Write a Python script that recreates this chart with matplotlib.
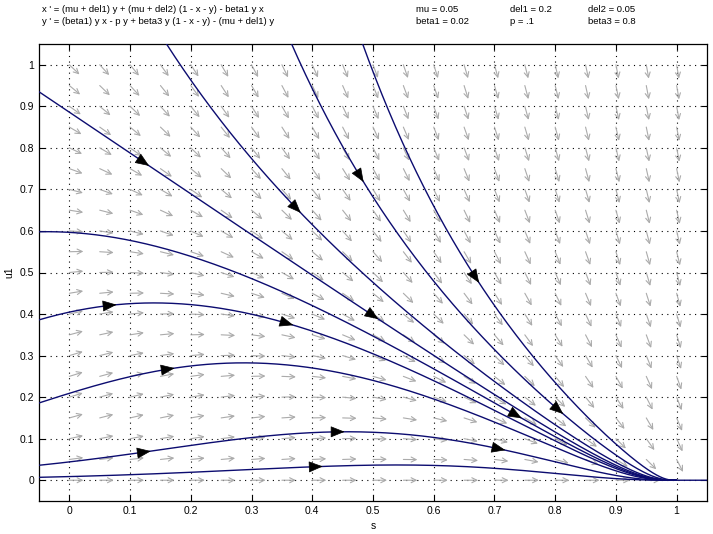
import numpy as np
import matplotlib
matplotlib.use("Agg")
import matplotlib.pyplot as plt
from matplotlib.patches import FancyArrowPatch

plt.rcParams['font.family'] = ['Liberation Sans', 'DejaVu Sans']

# parameters shown on the chart
mu, del1, del2 = 0.05, 0.2, 0.05
beta1, p, beta3 = 0.02, 0.1, 0.8

# starting points of the drawn solutions (where they enter the window)
start_s = [-0.05, 0.16, 0.366, 0.483, -0.05, -0.05, -0.05, -0.05, -0.05, 1.05]
start_u = [0.935, 1.05, 1.05, 1.05, 0.598, 0.386, 0.186, 0.036, 0.007, 0.0]

# positions of the black arrowheads on the solutions
arrow_s = [0.128, 0.379, 0.483, 0.675, 0.507, 0.077, 0.367, 0.175, 0.135, 0.453, 0.717, 0.417, 0.745, 0.81]
arrow_u = [0.752, 0.643, 0.716, 0.475, 0.386, 0.422, 0.369, 0.265, 0.065, 0.118, 0.070, 0.036, 0.149, 0.157]

xticks = [0, 0.1, 0.2, 0.3, 0.4, 0.5, 0.6, 0.7, 0.8, 0.9, 1]
tick_labels = ['0', '0.1', '0.2', '0.3', '0.4', '0.5', '0.6', '0.7', '0.8', '0.9', '1']
grid_pts = np.linspace(0, 1, 21)

xlim = (-0.05, 1.05)
ylim = (-0.05, 1.05)


def rhs(x, y):
    dx = (mu + del1) * y + (mu + del2) * (1 - x - y) - beta1 * y * x
    dy = beta1 * y * x - p * y + beta3 * y * (1 - x - y) - (mu + del1) * y
    return dx, dy


def solve(x0, y0, dt=0.01, tmax=200):
    xs, ys = [x0], [y0]
    x, y = x0, y0
    for _ in range(int(tmax / dt)):
        k1 = rhs(x, y)
        k2 = rhs(x + dt / 2 * k1[0], y + dt / 2 * k1[1])
        k3 = rhs(x + dt / 2 * k2[0], y + dt / 2 * k2[1])
        k4 = rhs(x + dt * k3[0], y + dt * k3[1])
        x += dt / 6 * (k1[0] + 2 * k2[0] + 2 * k3[0] + k4[0])
        y += dt / 6 * (k1[1] + 2 * k2[1] + 2 * k3[1] + k4[1])
        xs.append(x)
        ys.append(y)
        if np.hypot(x - 1, y) < 5e-4:
            break
    return np.array(xs), np.array(ys)


fig = plt.figure(figsize=(7.13, 5.34), dpi=100)
ax = fig.add_axes([39 / 713, 1 - 501 / 534, 668 / 713, 457 / 534])
ax.set_xlim(*xlim)
ax.set_ylim(*ylim)

# direction field, constant arrow length in pixels
sx = 668 / (xlim[1] - xlim[0])
sy = 457 / (ylim[1] - ylim[0])
L = 14
for gx in grid_pts:
    for gy in grid_pts:
        u, v = rhs(gx, gy)
        pu, pv = u * sx, v * sy
        n = np.hypot(pu, pv)
        if n == 0:
            continue
        ddx = pu / n * L / sx
        ddy = pv / n * L / sy
        ax.annotate('', xy=(gx + ddx, gy + ddy), xytext=(gx, gy),
                    arrowprops=dict(arrowstyle='->', color='#ababab', lw=0.8,
                                    shrinkA=0, shrinkB=0, mutation_scale=9))

# solutions
curves = []
for x0, y0 in zip(start_s, start_u):
    xs, ys = solve(x0, y0)
    curves.append((xs, ys))
    ax.plot(xs, ys, color='#0c0c70', lw=1.0, zorder=3)

# arrowheads on solutions
for a, b in zip(arrow_s, arrow_u):
    best = None
    for xs, ys in curves:
        d = (xs - a) ** 2 + (ys - b) ** 2
        i = int(np.argmin(d))
        if best is None or d[i] < best[0]:
            best = (d[i], xs, ys, i)
    _, xs, ys, i = best
    j = min(i + 1, len(xs) - 1)
    tx, ty = (xs[j] - xs[i]) * sx, (ys[j] - ys[i]) * sy
    n = np.hypot(tx, ty)
    hx, hy = xs[i], ys[i]
    ax.add_patch(FancyArrowPatch((hx - tx / n * 4 / sx, hy - ty / n * 4 / sy), (hx, hy),
                                 arrowstyle='-|>,head_length=1.0,head_width=0.4',
                                 mutation_scale=9, color='black', lw=0.5,
                                 shrinkA=0, shrinkB=0, zorder=4))

ax.set_xticks(xticks)
ax.set_xticklabels(tick_labels)
ax.set_yticks(xticks)
ax.set_yticklabels(tick_labels)
ax.tick_params(direction='in', top=True, right=True, labelsize=7.5, length=4, width=0.8)
ax.grid(True, color='black', linestyle=(0, (1, 4)), lw=0.8)
for sp in ax.spines.values():
    sp.set_linewidth(0.9)
ax.set_xlabel('s', fontsize=7.5)
ax.set_ylabel('u1', fontsize=7.5)

fs = 6.8
fig.text(42 / 713, 1 - 10 / 534, "x ' = (mu + del1) y + (mu + del2) (1 - x - y) - beta1 y x",
         fontsize=fs, va='center')
fig.text(42 / 713, 1 - 22 / 534, "y ' = (beta1) y x - p y + beta3 y (1 - x - y) - (mu + del1) y",
         fontsize=fs, va='center')
fig.text(416 / 713, 1 - 10 / 534, "mu = 0.05", fontsize=fs, va='center')
fig.text(416 / 713, 1 - 22 / 534, "beta1 = 0.02", fontsize=fs, va='center')
fig.text(510 / 713, 1 - 10 / 534, "del1 = 0.2", fontsize=fs, va='center')
fig.text(510 / 713, 1 - 22 / 534, "p = .1", fontsize=fs, va='center')
fig.text(588 / 713, 1 - 10 / 534, "del2 = 0.05", fontsize=fs, va='center')
fig.text(588 / 713, 1 - 22 / 534, "beta3 = 0.8", fontsize=fs, va='center')

fig.savefig('out.png', dpi=100)
